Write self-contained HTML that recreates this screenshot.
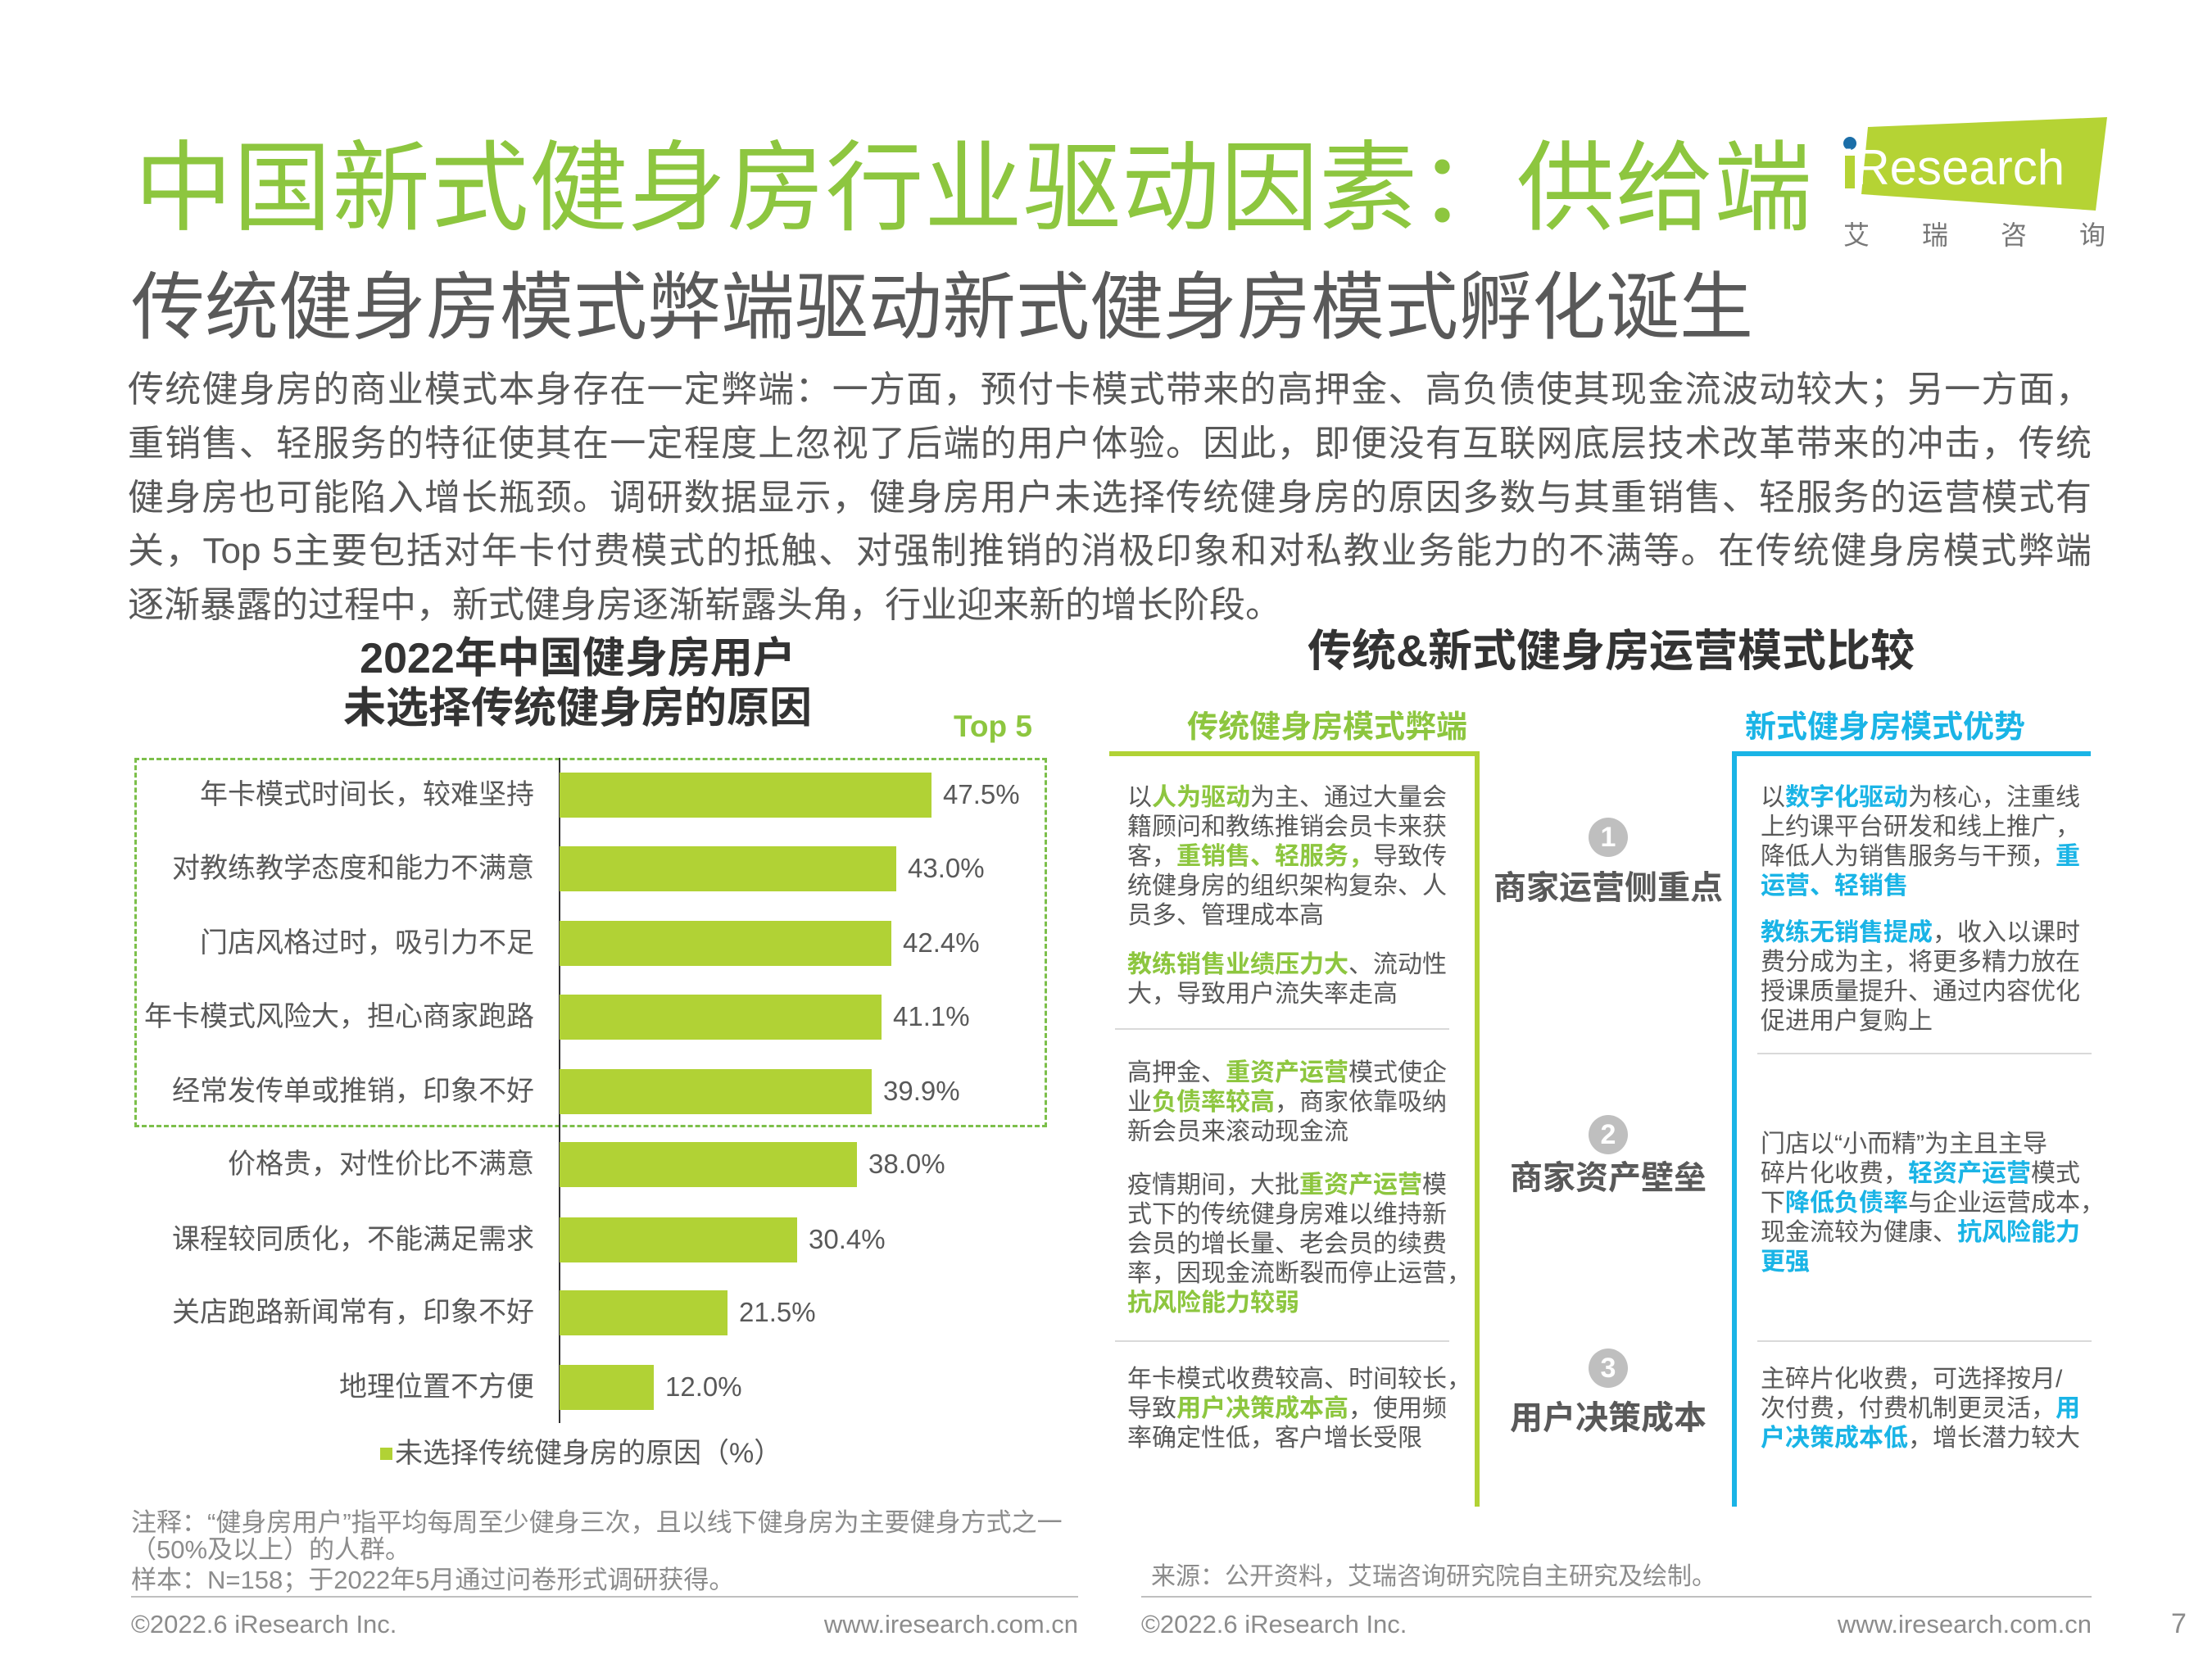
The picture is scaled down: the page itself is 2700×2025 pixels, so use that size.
<!DOCTYPE html>
<html><head><meta charset="utf-8"><style>
*{margin:0;padding:0;box-sizing:border-box}
body{width:2700px;height:2025px;background:#fff;position:relative;overflow:hidden;font-family:"Liberation Sans","Noto Sans CJK SC",sans-serif;color:#595959}
.a{position:absolute;white-space:nowrap}
.p{position:absolute;left:156px;width:2397px;font-size:44px;line-height:60px;height:60px;text-align:justify;text-align-last:justify;white-space:nowrap}
.cat{position:absolute;right:2048px;font-size:34px;line-height:40px;text-align:right;white-space:nowrap}
.bar{position:absolute;left:683px;height:55px;background:#b1d235}
.val{position:absolute;font-size:33px;line-height:40px;white-space:nowrap}
.t{position:absolute;font-size:30px;line-height:36px;white-space:nowrap;color:#595959}
.g{color:#8dc63f;font-weight:bold}
.b{color:#1ab4e6;font-weight:bold}
.sep{position:absolute;height:2px;background:#d9d9d9}
.circ{position:absolute;width:48px;height:48px;border-radius:50%;background:#bfbfbf;color:#fff;font-weight:bold;font-size:34px;line-height:48px;text-align:center}
.mid{position:absolute;font-size:40px;font-weight:bold;line-height:50px;color:#595959;white-space:nowrap;text-align:center;width:320px;left:1803px}
</style></head><body>
<div class="a" style="left:164px;top:168px;font-size:120px;line-height:124px;letter-spacing:0.5px;color:#8dc63f">中国新式健身房行业驱动因素：供给端</div>
<!-- logo -->
<svg class="a" style="left:2240px;top:135px" width="340" height="130"><polygon points="40,20 332,8 318,122 32,102" fill="#b5d334"/><circle cx="18" cy="40" r="8" fill="#1b6ea8"/><text x="10" y="90" font-family="Liberation Sans" font-size="60" fill="#fff">iResearch</text><rect x="12" y="55" width="12" height="40" fill="#b5d334"/></svg>
<div class="a" style="left:2250px;top:262px;font-size:32px;letter-spacing:64px;color:#777">艾瑞咨询</div>
<div class="a" style="left:160px;top:326px;font-size:90px;line-height:100px;color:#595959">传统健身房模式弊端驱动新式健身房模式孵化诞生</div>
<div class="p" style="top:446px">传统健身房的商业模式本身存在一定弊端：一方面，预付卡模式带来的高押金、高负债使其现金流波动较大；另一方面，</div>
<div class="p" style="top:512px">重销售、轻服务的特征使其在一定程度上忽视了后端的用户体验。因此，即便没有互联网底层技术改革带来的冲击，传统</div>
<div class="p" style="top:578px">健身房也可能陷入增长瓶颈。调研数据显示，健身房用户未选择传统健身房的原因多数与其重销售、轻服务的运营模式有</div>
<div class="p" style="top:643px">关，Top 5主要包括对年卡付费模式的抵触、对强制推销的消极印象和对私教业务能力的不满等。在传统健身房模式弊端</div>
<div class="p" style="top:709px;text-align-last:left;width:auto">逐渐暴露的过程中，新式健身房逐渐崭露头角，行业迎来新的增长阶段。</div>

<!-- left chart -->
<div class="a" style="left:405px;top:774px;width:600px;text-align:center;font-size:52px;font-weight:bold;line-height:60px;color:#333">2022年中国健身房用户</div>
<div class="a" style="left:405px;top:835px;width:600px;text-align:center;font-size:52px;font-weight:bold;line-height:60px;color:#333">未选择传统健身房的原因</div>
<div class="a" style="left:1164px;top:866px;font-size:37px;font-weight:bold;color:#8dc63f;line-height:42px">Top 5</div>
<div class="a" style="left:164px;top:925px;width:1114px;height:451px;border:3px dashed #7cbf4a"></div>
<div class="a" style="left:682px;top:925px;width:2px;height:812px;background:#333"></div>

<div class="cat" style="top:950px">年卡模式时间长，较难坚持</div><div class="bar" style="top:943px;width:454px"></div><div class="val" style="top:950px;left:1151px">47.5%</div>
<div class="cat" style="top:1040px">对教练教学态度和能力不满意</div><div class="bar" style="top:1033px;width:411px"></div><div class="val" style="top:1040px;left:1108px">43.0%</div>
<div class="cat" style="top:1131px">门店风格过时，吸引力不足</div><div class="bar" style="top:1124px;width:405px"></div><div class="val" style="top:1131px;left:1102px">42.4%</div>
<div class="cat" style="top:1221px">年卡模式风险大，担心商家跑路</div><div class="bar" style="top:1214px;width:393px"></div><div class="val" style="top:1221px;left:1090px">41.1%</div>
<div class="cat" style="top:1312px">经常发传单或推销，印象不好</div><div class="bar" style="top:1305px;width:381px"></div><div class="val" style="top:1312px;left:1078px">39.9%</div>
<div class="cat" style="top:1401px">价格贵，对性价比不满意</div><div class="bar" style="top:1394px;width:363px"></div><div class="val" style="top:1401px;left:1060px">38.0%</div>
<div class="cat" style="top:1493px">课程较同质化，不能满足需求</div><div class="bar" style="top:1486px;width:290px"></div><div class="val" style="top:1493px;left:987px">30.4%</div>
<div class="cat" style="top:1582px">关店跑路新闻常有，印象不好</div><div class="bar" style="top:1575px;width:205px"></div><div class="val" style="top:1582px;left:902px">21.5%</div>
<div class="cat" style="top:1673px">地理位置不方便</div><div class="bar" style="top:1666px;width:115px"></div><div class="val" style="top:1673px;left:812px">12.0%</div>

<div class="a" style="left:464px;top:1767px;width:15px;height:15px;background:#b1d235"></div>
<div class="a" style="left:482px;top:1754px;font-size:34px;line-height:40px">未选择传统健身房的原因（%）</div>

<div class="a" style="left:160px;top:1842px;font-size:31px;line-height:34px;color:#8c8c8c">注释：“健身房用户”指平均每周至少健身三次，且以线下健身房为主要健身方式之一</div>
<div class="a" style="left:160px;top:1875px;font-size:31px;line-height:34px;color:#8c8c8c">（50%及以上）的人群。</div>
<div class="a" style="left:160px;top:1912px;font-size:31px;line-height:34px;color:#8c8c8c">样本：N=158；于2022年5月通过问卷形式调研获得。</div>
<div class="a" style="left:160px;top:1948px;width:1156px;height:2px;background:#bfbfbf"></div>
<div class="a" style="left:160px;top:1965px;font-size:31px;line-height:36px;color:#8c8c8c">©2022.6 iResearch Inc.</div>
<div class="a" style="left:960px;top:1965px;width:356px;text-align:right;font-size:31px;line-height:36px;color:#8c8c8c">www.iresearch.com.cn</div>

<!-- right -->
<div class="a" style="left:1596px;top:765px;font-size:54px;font-weight:bold;line-height:60px;color:#333">传统&amp;新式健身房运营模式比较</div>
<div class="a" style="left:1449px;top:867px;font-size:38px;font-weight:bold;line-height:42px;color:#8dc63f">传统健身房模式弊端</div>
<div class="a" style="left:2130px;top:867px;font-size:38px;font-weight:bold;line-height:42px;color:#1ab4e6">新式健身房模式优势</div>
<div class="a" style="left:1354px;top:917px;width:452px;height:6px;background:#b1d235"></div>
<div class="a" style="left:1800px;top:917px;width:6px;height:922px;background:#b1d235"></div>
<div class="a" style="left:2114px;top:917px;width:438px;height:6px;background:#1ab4e6"></div>
<div class="a" style="left:2114px;top:917px;width:6px;height:922px;background:#1ab4e6"></div>

<div class="t" style="left:1376px;top:956px">以<span class="g">人为驱动</span>为主、通过大量会<br>籍顾问和教练推销会员卡来获<br>客，<span class="g">重销售、轻服务，</span>导致传<br>统健身房的组织架构复杂、人<br>员多、管理成本高</div>
<div class="t" style="left:1376px;top:1160px"><span class="g">教练销售业绩压力大</span>、流动性<br>大，导致用户流失率走高</div>
<div class="sep" style="left:1361px;top:1255px;width:408px"></div>
<div class="t" style="left:1376px;top:1292px">高押金、<span class="g">重资产运营</span>模式使企<br>业<span class="g">负债率较高</span>，商家依靠吸纳<br>新会员来滚动现金流</div>
<div class="t" style="left:1376px;top:1429px">疫情期间，大批<span class="g">重资产运营</span>模<br>式下的传统健身房难以维持新<br>会员的增长量、老会员的续费<br>率，因现金流断裂而停止运营，<br><span class="g">抗风险能力较弱</span></div>
<div class="sep" style="left:1361px;top:1636px;width:408px"></div>
<div class="t" style="left:1376px;top:1666px">年卡模式收费较高、时间较长，<br>导致<span class="g">用户决策成本高</span>，使用频<br>率确定性低，客户增长受限</div>

<div class="circ" style="left:1939px;top:998px">1</div>
<div class="mid" style="top:1059px">商家运营侧重点</div>
<div class="circ" style="left:1939px;top:1361px">2</div>
<div class="mid" style="top:1413px">商家资产壁垒</div>
<div class="circ" style="left:1939px;top:1646px">3</div>
<div class="mid" style="top:1706px">用户决策成本</div>

<div class="t" style="left:2149px;top:956px">以<span class="b">数字化驱动</span>为核心，注重线<br>上约课平台研发和线上推广，<br>降低人为销售服务与干预，<span class="b">重</span><br><span class="b">运营、轻销售</span></div>
<div class="t" style="left:2149px;top:1121px"><span class="b">教练无销售提成</span>，收入以课时<br>费分成为主，将更多精力放在<br>授课质量提升、通过内容优化<br>促进用户复购上</div>
<div class="sep" style="left:2145px;top:1285px;width:408px"></div>
<div class="t" style="left:2149px;top:1379px">门店以“小而精”为主且主导<br>碎片化收费，<span class="b">轻资产运营</span>模式<br>下<span class="b">降低负债率</span>与企业运营成本，<br>现金流较为健康、<span class="b">抗风险能力</span><br><span class="b">更强</span></div>
<div class="sep" style="left:2145px;top:1636px;width:408px"></div>
<div class="t" style="left:2149px;top:1666px">主碎片化收费，可选择按月/<br>次付费，付费机制更灵活，<span class="b">用</span><br><span class="b">户决策成本低</span>，增长潜力较大</div>

<div class="a" style="left:1405px;top:1908px;font-size:30px;line-height:34px;color:#8c8c8c">来源：公开资料，艾瑞咨询研究院自主研究及绘制。</div>
<div class="a" style="left:1393px;top:1948px;width:1160px;height:2px;background:#bfbfbf"></div>
<div class="a" style="left:1393px;top:1965px;font-size:31px;line-height:36px;color:#8c8c8c">©2022.6 iResearch Inc.</div>
<div class="a" style="left:2150px;top:1965px;width:403px;text-align:right;font-size:31px;line-height:36px;color:#8c8c8c">www.iresearch.com.cn</div>
<div class="a" style="left:2650px;top:1962px;font-size:34px;line-height:40px;color:#8c8c8c">7</div>
</body></html>
